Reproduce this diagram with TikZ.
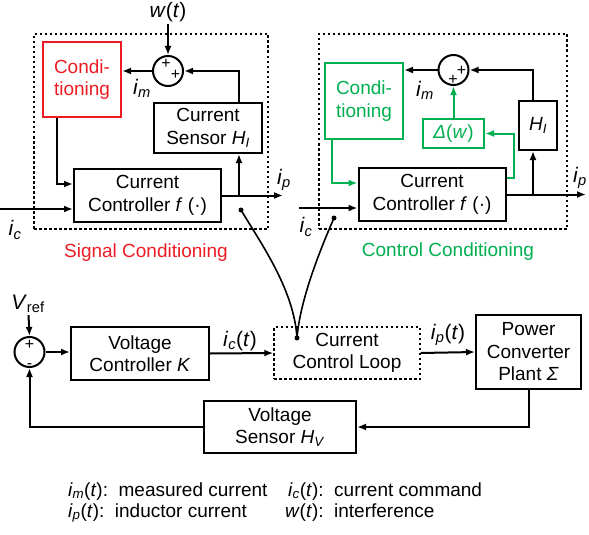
\documentclass[tikz,border=0pt]{standalone}
\usepackage{fontspec}
\setmainfont{Liberation Sans}
\usetikzlibrary{arrows.meta,calc}
\definecolor{sigred}{RGB}{236,28,36}
\definecolor{ctlgreen}{RGB}{0,176,80}
\newcommand{\vsig}[2]{\textit{#1}\textsubscript{\textit{#2}}}

\begin{document}
\begin{tikzpicture}[x=1pt, y=-1pt, >={Latex[length=9pt,width=7pt]}, line width=2pt,
    blk/.style={draw, line width=2pt, align=center, inner sep=0pt,
        font=\fontsize{19}{22.5}\selectfont},
    loopbox/.style={draw, line width=1.4pt, dash pattern=on 2.5pt off 2.5pt, inner sep=0pt},
    sumc/.style={draw, circle, minimum size=30pt, inner sep=0pt},
    lbl/.style={inner sep=1pt, font=\fontsize{21}{24}\selectfont},
    txt/.style={inner sep=0pt, font=\fontsize{19}{22}\selectfont},
    sgn/.style={inner sep=0pt, font=\fontsize{16}{16}\selectfont},
    jdot/.style={circle, fill, inner sep=0pt, minimum size=5pt}]

    \useasboundingbox (0,0) rectangle (589,535);

    % (a) Signal conditioning
    \begin{scope}
        \node[loopbox, minimum width=234pt, minimum height=195pt] (boxA) at (151,131.5) {};
        \node[txt, text=sigred] (sigA) at (146,253) {Signal Conditioning};

        \node[blk, draw=sigred, text=sigred, minimum width=78pt, minimum height=75pt] (condA) at (82,79.5) {Condi-\\tioning};
        \node[sumc] (sumA) at (168,71) {};
        \node[sgn] (pA1) at (166,64) {+};
        \node[sgn] (pA2) at (175.5,75) {+};
        \node[blk, minimum width=108pt, minimum height=50pt] (sensA) at (208,128) {Current\\Sensor \vsig{H}{I}};
        \node[blk, minimum width=147pt, minimum height=53pt] (ctrlA) at (147.5,195.5) {Current\\Controller \textit{f} (·)};

        \node[lbl] (wA) at (168,12) {\textit{w}(\textit{t})};
        \node[lbl] (imA) at (142,88) {\vsig{i}{m}};
        \node[lbl] (icA) at (15,230) {\vsig{i}{c}};
        \node[lbl] (ipA) at (284,180) {\vsig{i}{p}};

        \coordinate (inA) at (0,209);
        \coordinate (outA) at (283,195.5);
        \coordinate (tapA) at (239,195.5);

        \draw[->] (wA) -- (sumA.north);
        \draw[->] (sumA.west) -- (condA.east |- sumA.west);
        \draw[->] (tapA |- sensA.north) |- (sumA.east);
        \draw[->] (tapA) -- (tapA |- sensA.south);
        \draw[->] ([xshift=-25pt]condA.south) |- ([yshift=11.5pt]ctrlA.west);
        \draw[->] (inA) -- (inA -| ctrlA.west);
        \draw[->] (ctrlA.east) -- (outA);

        \node[jdot] (dotA) at (241,210) {};
    \end{scope}

    % (b) Control conditioning
    \begin{scope}
        \node[loopbox, minimum width=248pt, minimum height=195pt] (boxB) at (443,131.5) {};
        \node[txt, text=ctlgreen] (ctlB) at (448,252) {Control Conditioning};

        \node[blk, draw=ctlgreen, text=ctlgreen, minimum width=78pt, minimum height=76pt] (condB) at (364,101) {Condi-\\tioning};
        \node[sumc] (sumB) at (453.5,70) {};
        \node[sgn] (pB1) at (453,79.5) {+};
        \node[sgn] (pB2) at (461.5,71) {+};
        \node[blk, draw=ctlgreen, text=ctlgreen, minimum width=61pt, minimum height=29pt] (dltB) at (453.5,133.5) {\textit{Δ}(\textit{w})};
        \node[blk, minimum width=38pt, minimum height=49pt] (hB) at (538,125.5) {\vsig{H}{I}};
        \node[blk, minimum width=147pt, minimum height=53pt] (ctrlB) at (432,194.5) {Current\\Controller \textit{f} (·)};

        \node[lbl] (imB) at (425,90) {\vsig{i}{m}};
        \node[lbl] (icB) at (306,227) {\vsig{i}{c}};
        \node[lbl] (ipB) at (580,178) {\vsig{i}{p}};

        \coordinate (inB) at (299,208);
        \coordinate (outB) at (586,194.5);
        \coordinate (tapB) at (533,194.5);

        \draw[->] (sumB.west) -- (condB.east |- sumB.west);
        \draw[->] (tapB |- hB.north) |- (sumB.east);
        \draw[->] (tapB) -- (tapB |- hB.south);
        \draw[->, ctlgreen] (dltB.north) -- (sumB.south);
        \draw[->, ctlgreen] ([yshift=16.5pt]ctrlB.east) -- ++(7,0) |- (dltB.east);
        \draw[->, ctlgreen] ([xshift=-32pt]condB.south) |- ([yshift=11.5pt]ctrlB.west);
        \draw[->] (inB) -- (inB -| ctrlB.west);
        \draw[->] (ctrlB.east) -- (outB);

        \node[jdot] (dotB) at (334,218) {};
    \end{scope}

    % (c) Voltage loop
    \begin{scope}
        \node[sumc] (sumC) at (29.5,352) {};
        \node[sgn, anchor=base] (pC) at (29.5,349.3) {+};
        \node[sgn, anchor=base] (mC) at (29.5,368) {-};
        \node[blk, minimum width=138pt, minimum height=53pt] (vc) at (140,353.5) {Voltage\\Controller \textit{K}};
        \node[blk, loopbox, minimum width=146pt, minimum height=52pt] (ccl) at (347,353) {Current\\Control Loop};
        \node[blk, minimum width=105pt, minimum height=74pt] (plant) at (528.5,352) {Power\\Converter\\Plant \textit{Σ}};
        \node[blk, minimum width=152pt, minimum height=52pt] (vs) at (280,427) {Voltage\\Sensor \vsig{H}{V}};

        \node[lbl] (vref) at (28,304) {\textit{V}\textsubscript{ref}};
        \node[lbl] (icC) at (240,341) {\vsig{i}{c}(\textit{t})};
        \node[lbl] (ipC) at (448,335) {\vsig{i}{p}(\textit{t})};

        \draw[->] (vref) -- (sumC.north);
        \draw[->] (sumC.east) -- (vc.west |- sumC.east);
        \draw[->] (vc.east) -- (ccl.west);
        \draw[->] (ccl.east) -- (plant.west);
        \draw[->] (plant.south) |- (vs.east);
        \draw[->] (vs.west) -| (sumC.south);

        \node[jdot] (dotC) at (297,338) {};
    \end{scope}

    % zoom lines
    \draw[line width=1.6pt] (dotA.center) .. controls (262,245) and (294,290) .. (dotC.center);
    \draw[line width=1.6pt] (dotB.center) .. controls (320,250) and (300,300) .. (dotC.center);

    % Legend
    \node[txt, anchor=base west] (lgA) at (67,496) {\vsig{i}{m}(\textit{t}):\ \ measured current};
    \node[txt, anchor=base west] (lgB) at (287,496) {\vsig{i}{c}(\textit{t}):\ \ current command};
    \node[txt, anchor=base west] (lgC) at (67,517) {\vsig{i}{p}(\textit{t}):\ \ inductor current};
    \node[txt, anchor=base west] (lgD) at (284,517) {\textit{w}(\textit{t}):\ \ interference};

\end{tikzpicture}
\end{document}
